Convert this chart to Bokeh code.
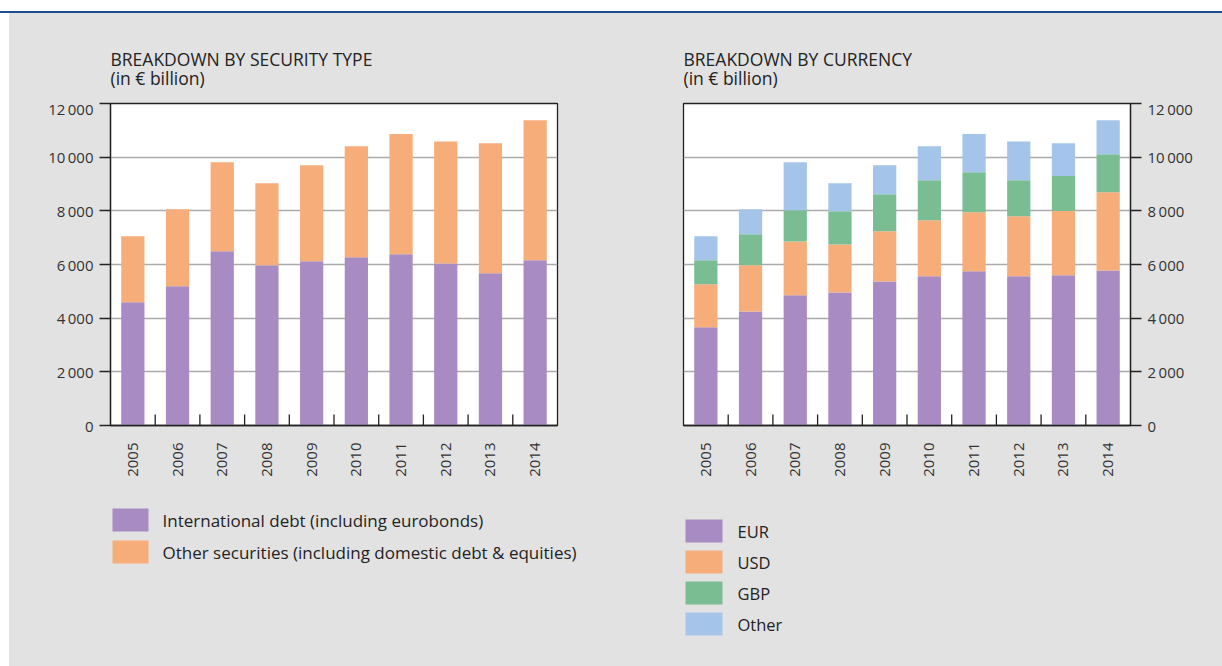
import math

from bokeh.embed import file_html
from bokeh.layouts import column, row
from bokeh.models import (ColumnDataSource, Div, FactorRange, FixedTicker, Label,
                          Range1d, Spacer)
from bokeh.plotting import figure
from bokeh.resources import INLINE
from bokeh.transform import dodge

# ---- data (EUR billion) ----
years = ["2005", "2006", "2007", "2008", "2009", "2010", "2011", "2012", "2013", "2014"]

# breakdown by security type
intl_debt = [4590, 5190, 6490, 5970, 6120, 6270, 6380, 6040, 5670, 6160]
other_securities = [2460, 2870, 3320, 3060, 3580, 4140, 4480, 4540, 4850, 5220]

# breakdown by currency
eur = [3660, 4250, 4850, 4960, 5370, 5560, 5750, 5560, 5600, 5780]
usd = [1600, 1720, 2010, 1790, 1870, 2090, 2200, 2240, 2390, 2910]
gbp = [900, 1160, 1160, 1230, 1380, 1490, 1490, 1340, 1310, 1420]
other_ccy = [890, 930, 1790, 1050, 1080, 1270, 1420, 1440, 1220, 1270]

y_ticks = [0, 2000, 4000, 6000, 8000, 10000, 12000]

type_labels = ["International debt (including eurobonds)",
               "Other securities (including domestic debt & equities)"]
ccy_labels = ["EUR", "USD", "GBP", "Other"]

# ---- styling ----
FONT = "Open Sans"
BG = "#e2e2e2"
PURPLE = "#a88bc2"
ORANGE = "#f6ad7a"
GREEN = "#7bbd93"
LIGHTBLUE = "#a4c5e9"
INK = "#222222"

FULL_W = 1213
LEFT_W, RIGHT_W = 602, 611
TITLE_H, CHART_H, KEY_H = 85, 402, 166


def thin_thousands(v):
    return f"{v:,}".replace(",", "\u2009")


def blank_fig(width, height):
    """A plain grey drawing area whose data units are pixels."""
    f = figure(width=width, height=height, x_range=Range1d(0, width), y_range=Range1d(0, height),
               x_axis_type=None, y_axis_type=None, min_border=0, output_backend="svg",
               toolbar_location=None, title=None, background_fill_color=BG, border_fill_color=BG,
               outline_line_color=None)
    f.grid.visible = False
    return f


def chart(width, left, right, yloc, stack_cols, colors):
    data = {"year": years}
    data.update(stack_cols)
    source = ColumnDataSource(data)

    p = figure(width=width, height=CHART_H, x_range=FactorRange(*years), y_range=Range1d(0, 12000),
               y_axis_location=yloc, output_backend="svg", toolbar_location=None, title=None,
               min_border_left=left, min_border_right=right, min_border_top=5, min_border_bottom=75,
               background_fill_color="white", border_fill_color=BG)

    p.vbar_stack(list(stack_cols.keys()), x="year", width=0.52, source=source,
                 fill_color=colors, line_color=None)

    # inward ticks on the category boundaries
    bounds = ColumnDataSource({"year": years[:-1]})
    p.scatter(x=dodge("year", 0.5, range=p.x_range), y=0, marker="dash", angle=math.pi / 2,
              size=22, line_color=INK, line_width=1.3, source=bounds)

    p.outline_line_color = INK
    p.outline_line_width = 1.3

    p.xgrid.grid_line_color = None
    p.ygrid.grid_line_color = "#ababab"
    p.ygrid.grid_line_width = 1.3
    p.ygrid.ticker = FixedTicker(ticks=y_ticks)

    ax = p.yaxis[0]
    ax.ticker = FixedTicker(ticks=y_ticks)
    ax.major_label_overrides = {t: thin_thousands(t) for t in y_ticks}
    ax.major_tick_in = 0
    ax.major_tick_out = 11
    ax.minor_tick_line_color = None
    ax.major_tick_line_color = INK
    ax.major_tick_line_width = 1.3
    ax.axis_line_color = INK
    ax.axis_line_width = 1.3
    ax.major_label_standoff = 6
    ax.major_label_text_font = FONT
    ax.major_label_text_font_size = "15px"
    ax.major_label_text_color = "#333333"

    xa = p.xaxis[0]
    xa.major_tick_line_color = None
    xa.major_tick_in = 0
    xa.major_tick_out = 0
    xa.axis_line_color = INK
    xa.axis_line_width = 1.3
    xa.major_label_orientation = math.pi / 2
    xa.major_label_standoff = 17
    xa.major_label_text_font = FONT
    xa.major_label_text_font_size = "15px"
    xa.major_label_text_color = "#333333"
    return p


# ---- headings ----
head = blank_fig(FULL_W, TITLE_H)
for x0, title in ((101, "BREAKDOWN BY SECURITY TYPE"), (674, "BREAKDOWN BY CURRENCY")):
    for txt, y in ((title, 39.5), ("(in \u20ac billion)", 21)):
        head.add_layout(Label(x=x0, y=y, text=txt, text_font=FONT, text_font_size="17.5px",
                              text_color=INK, text_baseline="alphabetic"))

# ---- colour keys ----
key = blank_fig(FULL_W, KEY_H)


def draw_key(fig, labels, colors, x0, top, sw_w, sw_h, pitch, text_gap, font_size):
    tops = [top - i * pitch for i in range(len(labels))]
    fig.quad(left=x0, right=x0 + sw_w, top=tops, bottom=[t - sw_h for t in tops],
             fill_color=colors, line_color=None)
    for lab, t in zip(labels, tops):
        fig.add_layout(Label(x=x0 + sw_w + text_gap, y=t - sw_h / 2, text=lab, text_font=FONT,
                             text_font_size=font_size, text_color=INK, text_baseline="middle"))


draw_key(key, type_labels, [PURPLE, ORANGE], 103, 158, 36, 23, 32, 14, "17px")
draw_key(key, ccy_labels, [PURPLE, ORANGE, GREEN, LIGHTBLUE], 676, 147, 37, 23, 31, 15, "16.5px")

# ---- charts ----
p1 = chart(LEFT_W, 101, 54, "left", {"intl": intl_debt, "other": other_securities}, [PURPLE, ORANGE])
p2 = chart(RIGHT_W, 72, 92, "right", {"eur": eur, "usd": usd, "gbp": gbp, "oth": other_ccy},
           [PURPLE, ORANGE, GREEN, LIGHTBLUE])

strip = Div(text="", width=1222, height=13, margin=0,
            styles={"background-color": "white", "border-bottom": "2px solid #1d4f8f",
                    "box-sizing": "border-box"})

body = column(head, row(p1, p2, styles={"background-color": BG}), key,
              styles={"background-color": BG})
page = column(strip, row(Spacer(width=9, height=653), body))

with open("out.html", "w") as f:
    f.write(file_html(page, INLINE))
